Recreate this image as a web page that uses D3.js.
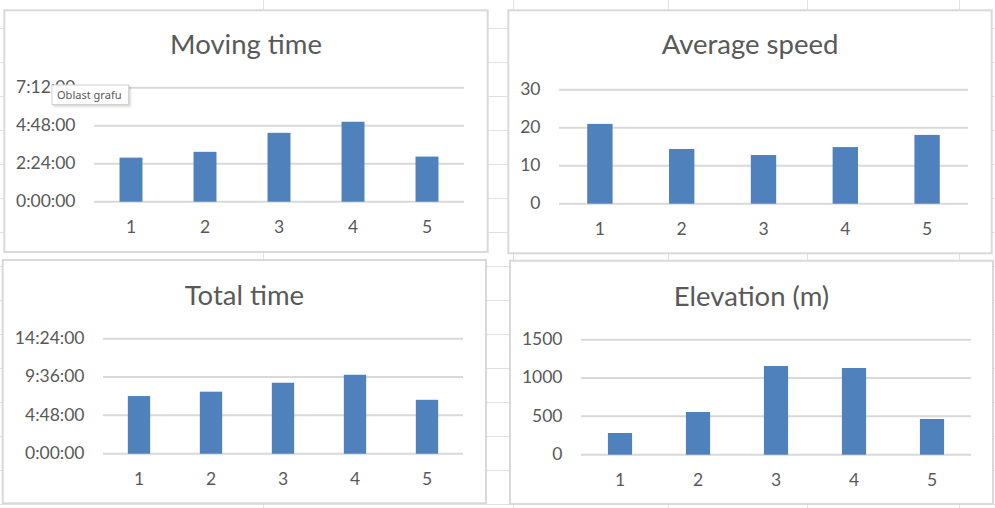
<!DOCTYPE html>
<html>
<head>
<meta charset="utf-8">
<script src="https://cdn.jsdelivr.net/npm/d3@7/dist/d3.min.js"></script>
<style>
  html, body { margin: 0; padding: 0; background: #ffffff; }
  svg { display: block; }
</style>
</head>
<body>
<svg id="chart" width="995" height="508"></svg>
<script>
// ---------- DATA ----------
const categories = ["1", "2", "3", "4", "5"];
const movingTime = ["2:47:00", "3:09:00", "4:21:00", "5:03:00", "2:51:00"];
const averageSpeed = [21.0, 14.4, 12.8, 14.9, 18.1];
const totalTime = ["7:13:00", "7:46:00", "8:53:00", "9:53:00", "6:45:00"];
const elevation = [283, 557, 1157, 1131, 466];

const movingTimeTicks = ["0:00:00", "2:24:00", "4:48:00", "7:12:00"];
const speedTicks = [0, 10, 20, 30];
const totalTimeTicks = ["0:00:00", "4:48:00", "9:36:00", "14:24:00"];
const elevationTicks = [0, 500, 1000, 1500];

const titles = ["Moving time", "Average speed", "Total time", "Elevation (m)"];
const tooltipText = "Oblast grafu";

// ---------- HELPERS ----------
const toHours = s => { const p = s.split(":").map(Number); return p[0] + p[1] / 60 + (p[2] || 0) / 3600; };

const svg = d3.select("#chart");
const FONT = "Lato, 'Open Sans', sans-serif";
const TEXT = "#595959";
const GRID = "#d9d9d9";
const BAR = "#4f81bd";

// ---------- SPREADSHEET BACKGROUND GRID ----------
const sheetCols = [263.5, 513.5, 668.5, 807.5, 959.5];
const sheetRows = d3.range(0, 15).map(i => 28.5 + i * 34);
const bg = svg.append("g");
bg.selectAll("line.c").data(sheetCols).join("line")
  .attr("x1", d => d).attr("x2", d => d).attr("y1", 0).attr("y2", 508)
  .attr("stroke", "#e1e1e1").attr("stroke-width", 1);
bg.selectAll("line.r").data(sheetRows).join("line")
  .attr("x1", 0).attr("x2", 995).attr("y1", d => d).attr("y2", d => d)
  .attr("stroke", "#e1e1e1").attr("stroke-width", 1);

// ---------- CHART LAYOUTS ----------
const charts = [
  { title: titles[0], values: movingTime.map(toHours), ticks: movingTimeTicks.map(toHours), labels: movingTimeTicks,
    box: { x: 4.3, y: 10.3, w: 483.4, h: 241.7 }, plot: { x0: 94, x1: 464, y0: 201.7, y1: 87.7 }, titleY: 54 },
  { title: titles[1], values: averageSpeed, ticks: speedTicks, labels: speedTicks.map(String),
    box: { x: 508.3, y: 10.3, w: 483.4, h: 243 }, plot: { x0: 559, x1: 968, y0: 203.7, y1: 89.7 }, titleY: 54 },
  { title: titles[2], values: totalTime.map(toHours), ticks: totalTimeTicks.map(toHours), labels: totalTimeTicks,
    box: { x: 2.7, y: 260, w: 483.3, h: 243.3 }, plot: { x0: 103, x1: 463, y0: 453.7, y1: 338.7 }, titleY: 305 },
  { title: titles[3], values: elevation, ticks: elevationTicks, labels: elevationTicks.map(String),
    box: { x: 510, y: 260.7, w: 483, h: 243.3 }, plot: { x0: 581, x1: 971, y0: 454.7, y1: 339.7 }, titleY: 306 }
];

charts.forEach(c => {
  const g = svg.append("g");
  // chart area
  g.append("rect")
    .attr("x", c.box.x).attr("y", c.box.y).attr("width", c.box.w).attr("height", c.box.h)
    .attr("fill", "#ffffff").attr("stroke", GRID).attr("stroke-width", 2);

  // title
  g.append("text")
    .attr("x", c.box.x + c.box.w / 2).attr("y", c.titleY)
    .attr("text-anchor", "middle")
    .attr("font-family", FONT).attr("font-size", 27.5).attr("fill", TEXT)
    .text(c.title);

  const x = d3.scaleBand().domain(categories).range([c.plot.x0, c.plot.x1])
    .paddingInner(0.69).paddingOuter(0.345);
  const y = d3.scaleLinear().domain([0, d3.max(c.ticks)]).range([c.plot.y0, c.plot.y1]);

  // gridlines
  g.append("g").selectAll("line").data(c.ticks).join("line")
    .attr("x1", c.plot.x0).attr("x2", c.plot.x1)
    .attr("y1", d => y(d)).attr("y2", d => y(d))
    .attr("stroke", GRID).attr("stroke-width", 2);

  // bars
  g.append("g").selectAll("rect").data(c.values).join("rect")
    .attr("x", (d, i) => x(categories[i]))
    .attr("width", x.bandwidth())
    .attr("y", d => y(d))
    .attr("height", d => y(0) - y(d))
    .attr("fill", BAR);

  // y axis
  const yAxis = d3.axisLeft(y).tickValues(c.ticks)
    .tickFormat((d, i) => c.labels[i]).tickSize(0).tickPadding(18.5);
  const ya = g.append("g").attr("transform", `translate(${c.plot.x0},0)`).call(yAxis);
  ya.select(".domain").remove();
  ya.selectAll("text").attr("font-family", FONT).attr("font-size", 17.5)
    .attr("fill", TEXT).attr("dy", "0.28em");

  // x axis
  const xAxis = d3.axisBottom(x).tickSize(0);
  const xa = g.append("g").attr("transform", `translate(0,${c.plot.y0})`).call(xAxis);
  xa.select(".domain").remove();
  xa.selectAll("text").attr("font-family", FONT).attr("font-size", 17.5)
    .attr("fill", TEXT).attr("y", 31).attr("dy", null);
});

// ---------- TOOLTIP (Excel hover hint, drawn over the top axis label) ----------
const defs = svg.append("defs");
const f = defs.append("filter").attr("id", "shadow").attr("x", "-20%").attr("y", "-30%").attr("width", "150%").attr("height", "180%");
f.append("feDropShadow").attr("dx", 1.5).attr("dy", 1.5).attr("stdDeviation", 1.2).attr("flood-color", "#000").attr("flood-opacity", 0.18);
const tip = svg.append("g");
tip.append("rect").attr("x", 52).attr("y", 85).attr("width", 76.5).attr("height", 19.5)
  .attr("fill", "#ffffff").attr("stroke", "#d4d4d4").attr("stroke-width", 1).attr("filter", "url(#shadow)");
tip.append("text").attr("x", 57).attr("y", 99.2)
  .attr("font-family", "'Noto Sans', 'Open Sans', sans-serif").attr("font-size", 11.5).attr("fill", "#575757")
  .attr("textLength", 64.5).attr("lengthAdjust", "spacingAndGlyphs")
  .text(tooltipText);
</script>
</body>
</html>
